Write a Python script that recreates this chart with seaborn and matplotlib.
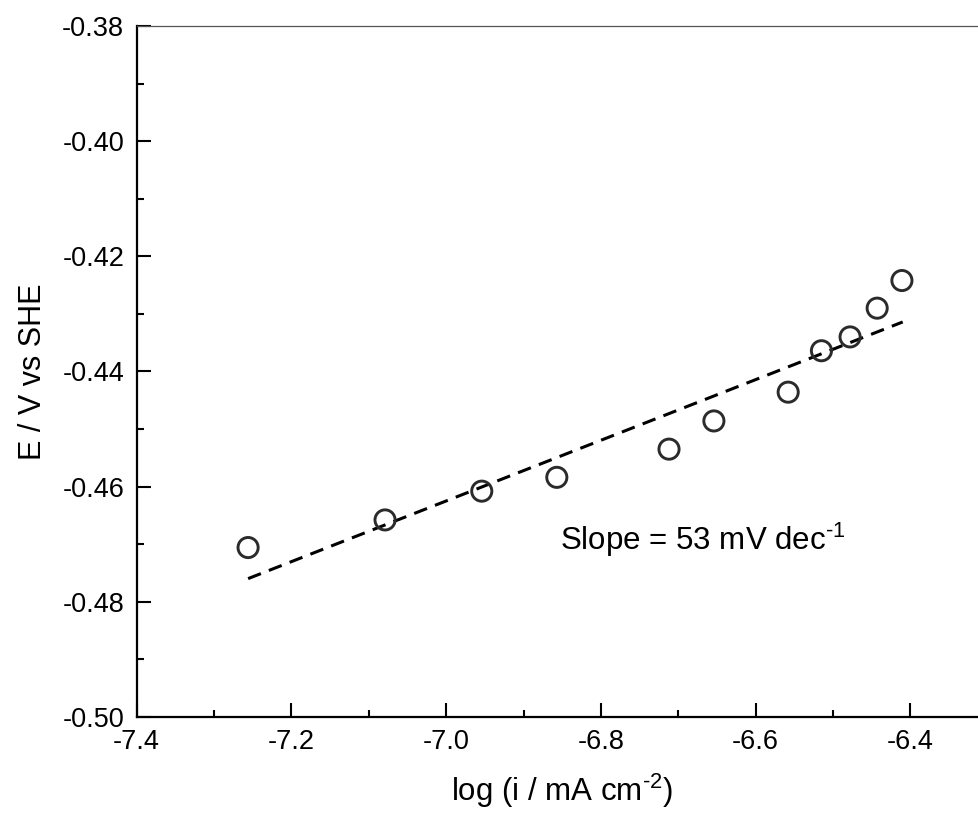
import seaborn as sns
import matplotlib.pyplot as plt
import pandas as pd
from matplotlib.ticker import MultipleLocator

# Tafel data
log_i = [-7.256, -7.079, -6.954, -6.857, -6.712, -6.654, -6.558, -6.515, -6.478, -6.443, -6.411]
potential = [-0.4706, -0.4658, -0.4608, -0.4584, -0.4535, -0.4486, -0.4436, -0.4364, -0.4340, -0.4290, -0.4242]

# linear fit end points
fit_x = [-7.256, -6.410]
fit_y = [-0.4760, -0.4314]

df = pd.DataFrame({'log_i': log_i, 'E': potential})
fit = pd.DataFrame({'log_i': fit_x, 'E': fit_y})

sns.set_style('ticks')
plt.rcParams['font.family'] = ['Liberation Sans', 'DejaVu Sans']
plt.rcParams['mathtext.fontset'] = 'custom'
plt.rcParams['mathtext.rm'] = 'Liberation Sans'
plt.rcParams['mathtext.it'] = 'Liberation Sans'
plt.rcParams['axes.unicode_minus'] = False
plt.rcParams['text.color'] = 'black'
plt.rcParams['axes.labelcolor'] = 'black'
plt.rcParams['xtick.color'] = 'black'
plt.rcParams['ytick.color'] = 'black'

fig = plt.figure(figsize=(9.79, 8.18), dpi=100)
ax = fig.add_axes([0.1396, 0.1238, 0.8694, 0.8442])

sns.lineplot(x='log_i', y='E', data=fit, ax=ax, color='black', lw=2.2,
             linestyle=(0, (4.5, 2.8)))
sns.scatterplot(x='log_i', y='E', data=df, ax=ax, marker='o', s=210,
                facecolor='none', edgecolor='#2b2b2b', linewidth=2.1, zorder=3)

ax.set_xlim(-7.4, -6.3)
ax.set_ylim(-0.50, -0.38)
ax.xaxis.set_major_locator(MultipleLocator(0.2))
ax.xaxis.set_minor_locator(MultipleLocator(0.1))
ax.yaxis.set_major_locator(MultipleLocator(0.02))
ax.yaxis.set_minor_locator(MultipleLocator(0.01))
ax.xaxis.set_major_formatter(lambda v, p: f'{v:.1f}')
ax.yaxis.set_major_formatter(lambda v, p: f'{v:.2f}')

ax.tick_params(which='major', direction='in', length=10, width=1.5, labelsize=19.5, pad=9,
               color='black', labelcolor='black')
ax.tick_params(which='minor', direction='in', length=5, width=1.5, color='black')
ax.tick_params(top=False, right=False, which='both')

for s in ['left', 'bottom']:
    ax.spines[s].set_linewidth(1.6)
    ax.spines[s].set_color('black')
ax.spines['top'].set_linewidth(0.9)
ax.spines['top'].set_color('#555555')
ax.spines['right'].set_visible(False)

ax.set_xlabel(r'log (i / mA cm$^{\text{-2}}$)', fontsize=22.5, labelpad=12, color='black')
ax.set_ylabel('E / V vs SHE', fontsize=22, labelpad=10, color='black')

ax.text(-6.853, -0.471, r'Slope = 53 mV dec$^{\text{-1}}$', fontsize=22.5,
        va='baseline', color='black')

fig.savefig('out.png', dpi=100)
